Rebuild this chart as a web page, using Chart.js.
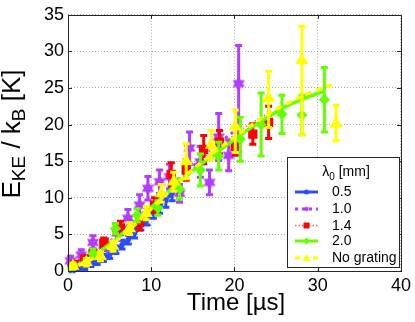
<!DOCTYPE html>
<html><head><meta charset="utf-8">
<script src="https://cdn.jsdelivr.net/npm/chart.js@4.4.0/dist/chart.umd.min.js"></script>
<style>html,body{margin:0;padding:0;background:#fff;overflow:hidden}canvas{display:block}</style>
</head><body>
<canvas id="c" width="415" height="322"></canvas>
<script>
// ---------- data ----------
const xTicks = [0, 10, 20, 30, 40];
const yTicks = [0, 5, 10, 15, 20, 25, 30, 35];
const legendLabels = ['0.5', '1.0', '1.4', '2.0', 'No grating'];

// lambda0 = 0.5 mm
const blueX = [0.5, 1.25, 2.0, 2.75, 3.5, 4.25, 5.0, 5.75, 6.5, 7.25, 8.0, 8.75, 9.5, 10.25, 11.0, 11.75, 12.5];
const blueY = [0.2, 0.4, 0.6, 1.0, 1.3, 1.8, 2.2, 2.9, 3.6, 4.3, 5.2, 6.3, 7.1, 8.0, 8.8, 9.6, 10.6];
const blueErr = [0.3, 0.3, 0.4, 0.4, 0.4, 0.5, 0.5, 0.5, 0.6, 0.6, 0.7, 0.7, 0.8, 0.8, 0.9, 0.9, 1.0];
const blueFitX = [0, 2, 4, 6, 8, 10, 12, 12.8];
const blueFitY = [0.1, 0.6, 1.6, 3.1, 5.1, 7.6, 10.0, 10.9];

// lambda0 = 1.0 mm
const purpleX = [0.3, 1.6, 3.0, 4.5, 5.9, 7.2, 8.6, 9.6, 11.0, 12.2, 13.4, 14.6, 15.9, 17.0, 18.1, 19.3, 20.5];
const purpleY = [1.4, 2.2, 3.9, 3.6, 5.2, 7.2, 9.0, 11.3, 12.2, 12.9, 10.6, 16.8, 14.9, 12.1, 18.3, 15.8, 25.6];
const purpleErrMinus = [0.6, 0.7, 0.9, 0.8, 1.0, 1.2, 1.4, 1.6, 1.6, 1.7, 1.2, 2.2, 2.1, 1.7, 3.2, 2.1, 9.3];
const purpleErrPlus = [0.6, 0.7, 0.9, 0.8, 1.0, 1.2, 1.4, 1.6, 1.6, 1.7, 1.2, 2.2, 2.1, 1.7, 3.2, 2.1, 5.2];
const purpleFitX = [0, 2, 4, 6, 8, 10, 12, 14, 16, 18, 20.5];
const purpleFitY = [0.8, 1.8, 3.2, 4.9, 6.9, 9.0, 11.2, 13.3, 15.3, 17.3, 19.6];

// lambda0 = 1.4 mm
const redX = [0.8, 2.0, 3.0, 4.3, 6.3, 8.6, 10.4, 12.4, 14.2, 16.3, 18.2, 20.1, 22.2, 24.1];
const redY = [0.9, 1.6, 2.4, 3.8, 5.9, 6.6, 9.0, 13.2, 13.8, 16.6, 17.6, 17.0, 18.7, 20.3];
const redErr = [0.4, 0.5, 0.6, 0.7, 0.9, 1.0, 1.0, 1.6, 1.4, 1.9, 1.6, 1.2, 1.4, 2.2];
const redFitX = [0, 2, 4, 6, 8, 10, 12, 14, 16, 18, 20, 22, 24.2];
const redFitY = [0.5, 1.5, 3.0, 4.8, 6.7, 8.8, 10.9, 13.0, 14.9, 16.8, 18.6, 20.2, 21.6];

// lambda0 = 2.0 mm
const greenX = [0.5, 3.0, 5.7, 8.3, 10.8, 13.4, 15.9, 18.1, 20.7, 23.2, 25.7, 28.1, 30.8];
const greenY = [0.5, 2.4, 5.8, 7.6, 8.6, 11.2, 13.8, 15.7, 18.0, 20.0, 21.4, 21.3, 23.4];
const greenErr = [0.4, 0.6, 0.7, 0.9, 1.0, 1.4, 2.2, 1.9, 3.0, 4.3, 2.6, 2.7, 4.4];
const greenFitX = [0, 2, 4, 6, 8, 10, 12, 14, 16, 18, 20, 22, 24, 26, 28, 30.7];
const greenFitY = [0.3, 1.3, 2.8, 4.6, 6.6, 8.7, 10.8, 12.8, 14.6, 16.3, 18.0, 19.6, 21.0, 22.4, 23.4, 24.5];

// no grating
const yellowX = [0.6, 2.2, 3.9, 5.4, 7.4, 9.4, 11.2, 12.7, 14.2, 17.2, 20.1, 24.1, 28.1, 32.2];
const yellowY = [0.7, 1.2, 2.0, 3.4, 5.8, 7.9, 10.6, 12.2, 15.0, 17.2, 19.7, 23.6, 28.8, 20.1];
const yellowErrMinus = [0.4, 0.5, 0.6, 0.7, 0.8, 0.9, 1.2, 1.3, 2.4, 2.0, 3.5, 4.0, 10.2, 2.3];
const yellowErrPlus = [0.4, 0.5, 0.6, 0.7, 0.8, 0.9, 1.2, 1.3, 2.4, 2.0, 2.3, 3.7, 4.6, 2.5];
const yellowFitX = [0, 2, 4, 6, 8, 10, 12, 14, 16, 18, 20, 22, 24, 26, 28, 30, 31.9];
const yellowFitY = [0.3, 1.1, 2.5, 4.3, 6.3, 8.5, 10.7, 12.9, 14.8, 16.6, 18.3, 19.9, 21.4, 22.7, 23.8, 24.8, 25.5];

// ---------- styles ----------
const FONT = "'Liberation Sans', Arial, Helvetica, sans-serif";
const C = { blue: '#2a4dff', purple: '#b23cff', red: '#ff0000', green: '#66ff00', yellow: '#ffff00' };

function pts(xs, ys) { return xs.map((x, i) => ({ x: x, y: ys[i] })); }

function hexagram(color, r) {
  const s = Math.ceil(2 * r + 2);
  const c = document.createElement('canvas');
  c.width = s; c.height = s;
  const g = c.getContext('2d');
  g.fillStyle = color;
  const cx = s / 2, cy = s / 2;
  [0, Math.PI].forEach(off => {
    g.beginPath();
    for (let k = 0; k < 3; k++) {
      const a = off - Math.PI / 2 + k * 2 * Math.PI / 3;
      g.lineTo(cx + r * Math.cos(a), cy + r * Math.sin(a));
    }
    g.closePath(); g.fill();
  });
  return c;
}
const starImg = hexagram(C.purple, 7);

function dataSet(label, xs, ys, eMinus, ePlus, color, style, radius, order) {
  return {
    label: label, data: pts(xs, ys), showLine: false,
    backgroundColor: color, borderColor: color, borderWidth: 1.5,
    pointStyle: style, pointRadius: radius, pointHoverRadius: radius,
    errMinus: eMinus, errPlus: ePlus, barColor: color, barWidth: 3,
    order: order, clip: false
  };
}
function fitSet(xs, ys, color, width, dash, order) {
  return {
    data: pts(xs, ys), showLine: true, pointRadius: 0, borderColor: color,
    borderWidth: width, borderDash: dash, tension: 0.4, cubicInterpolationMode: 'monotone',
    fill: false, order: order
  };
}

const datasets = [
  dataSet('0.5', blueX, blueY, blueErr, blueErr, C.blue, 'circle', 2, 9),
  fitSet(blueFitX, blueFitY, C.blue, 3, [], 8),
  dataSet('1.0', purpleX, purpleY, purpleErrMinus, purpleErrPlus, C.purple, starImg, 7, 7),
  fitSet(purpleFitX, purpleFitY, C.purple, 3, [3, 4], 6),
  dataSet('1.4', redX, redY, redErr, redErr, C.red, 'rect', 5.5, 5),
  fitSet(redFitX, redFitY, '#ff5a5a', 1.5, [1.5, 2], 4),
  dataSet('2.0', greenX, greenY, greenErr, greenErr, C.green, 'rectRot', 4.5, 3),
  fitSet(greenFitX, greenFitY, C.green, 3.5, [], 2),
  dataSet('No grating', yellowX, yellowY, yellowErrMinus, yellowErrPlus, C.yellow, 'triangle', 6, 1),
  fitSet(yellowFitX, yellowFitY, C.yellow, 3.5, [6, 5], 0)
];

// ---------- plugins ----------
const errorBars = {
  id: 'errorBars',
  beforeDatasetDraw(chart, args) {
    const ds = chart.data.datasets[args.index];
    if (!ds.errMinus) return;
    const ctx = chart.ctx, xs = chart.scales.x, ys = chart.scales.y;
    const cap = 3.5;
    ctx.save();
    ctx.strokeStyle = ds.barColor; ctx.lineWidth = ds.barWidth; ctx.setLineDash([]);
    ds.data.forEach((p, i) => {
      const px = xs.getPixelForValue(p.x);
      const y1 = ys.getPixelForValue(p.y - ds.errMinus[i]);
      const y2 = ys.getPixelForValue(p.y + ds.errPlus[i]);
      ctx.beginPath();
      ctx.moveTo(px, y1); ctx.lineTo(px, y2);
      ctx.moveTo(px - cap, y1); ctx.lineTo(px + cap, y1);
      ctx.moveTo(px - cap, y2); ctx.lineTo(px + cap, y2);
      ctx.stroke();
    });
    ctx.restore();
  }
};

function richText(ctx, parts, cx, baseY, size, subSize, subDrop) {
  let total = 0;
  parts.forEach(p => { ctx.font = (p.sub ? subSize : size) + 'px ' + FONT; total += ctx.measureText(p.t).width; });
  let x = cx - total / 2;
  parts.forEach(p => {
    ctx.font = (p.sub ? subSize : size) + 'px ' + FONT;
    ctx.fillText(p.t, x, baseY + (p.sub ? subDrop : 0));
    x += ctx.measureText(p.t).width;
  });
}

const frame = {
  id: 'frame',
  afterDatasetsDraw(chart) {
    const ctx = chart.ctx, a = chart.chartArea, xs = chart.scales.x, ys = chart.scales.y;
    ctx.save();
    ctx.strokeStyle = '#262626'; ctx.lineWidth = 1; ctx.setLineDash([]);
    ctx.strokeRect(Math.round(a.left) + 0.5, Math.round(a.top) + 0.5, Math.round(a.right - a.left), Math.round(a.bottom - a.top));
    ctx.beginPath();
    xTicks.forEach(v => {
      const px = Math.round(xs.getPixelForValue(v)) + 0.5;
      ctx.moveTo(px, a.bottom); ctx.lineTo(px, a.bottom - 4);
      ctx.moveTo(px, a.top); ctx.lineTo(px, a.top + 4);
    });
    yTicks.forEach(v => {
      const py = Math.round(ys.getPixelForValue(v)) + 0.5;
      ctx.moveTo(a.left, py); ctx.lineTo(a.left + 4, py);
      ctx.moveTo(a.right, py); ctx.lineTo(a.right - 4, py);
    });
    ctx.stroke();
    ctx.restore();
  },
  afterDraw(chart) {
    const ctx = chart.ctx;
    ctx.save();
    ctx.fillStyle = '#000'; ctx.textBaseline = 'alphabetic'; ctx.textAlign = 'left';
    // x title
    richText(ctx, [{ t: 'Time [\u00b5s]' }], 236, 310, 24, 17, 0);
    // y title
    ctx.save();
    ctx.translate(20, 134); ctx.rotate(-Math.PI / 2);
    richText(ctx, [{ t: 'E' }, { t: 'KE', sub: true }, { t: ' / k' }, { t: 'B', sub: true }, { t: ' [K]' }], 0, 0, 26, 19, 5);
    ctx.restore();

    // legend
    const L = { x: 287, y: 157, w: 112, h: 110 };
    ctx.fillStyle = '#fff'; ctx.fillRect(L.x, L.y, L.w, L.h);
    ctx.strokeStyle = '#262626'; ctx.lineWidth = 1;
    ctx.strokeRect(L.x + 0.5, L.y + 0.5, L.w, L.h);
    ctx.fillStyle = '#000';
    richText(ctx, [{ t: '\u03bb' }, { t: '0', sub: true }, { t: ' [mm]' }], 346, 176, 14, 10, 4);
    const rowsY = [192, 209, 225.5, 241, 258];
    const styles = [
      { c: C.blue, w: 3, d: [], m: 'dot' },
      { c: C.purple, w: 3, d: [3, 4], m: 'star' },
      { c: '#ff5a5a', w: 1.5, d: [1.5, 2], m: 'square' },
      { c: C.green, w: 3, d: [], m: 'diamond' },
      { c: C.yellow, w: 3, d: [5, 4], m: 'tri' }
    ];
    ctx.font = '14px ' + FONT; ctx.textBaseline = 'middle';
    styles.forEach((s, i) => {
      const y = rowsY[i], x0 = 295, x1 = 318, xm = 306.5;
      ctx.strokeStyle = s.c; ctx.lineWidth = s.w; ctx.setLineDash(s.d);
      ctx.beginPath(); ctx.moveTo(x0, y); ctx.lineTo(x1, y); ctx.stroke();
      ctx.setLineDash([]);
      ctx.fillStyle = s.m === 'square' ? C.red : s.c;
      ctx.beginPath();
      if (s.m === 'dot') { ctx.arc(xm, y, 2.5, 0, Math.PI * 2); ctx.fill(); }
      else if (s.m === 'star') { ctx.drawImage(hexagram(C.purple, 3), xm - 4, y - 4); }
      else if (s.m === 'square') { ctx.fillRect(xm - 3, y - 3, 6, 6); }
      else if (s.m === 'diamond') { ctx.moveTo(xm, y - 3.5); ctx.lineTo(xm + 3.5, y); ctx.lineTo(xm, y + 3.5); ctx.lineTo(xm - 3.5, y); ctx.closePath(); ctx.fill(); }
      else { ctx.moveTo(xm, y - 4); ctx.lineTo(xm + 4, y + 3); ctx.lineTo(xm - 4, y + 3); ctx.closePath(); ctx.fill(); }
      ctx.fillStyle = '#000';
      ctx.fillText(legendLabels[i], 332, y + 0.5);
    });
    ctx.restore();
  }
};

new Chart(document.getElementById('c'), {
  type: 'scatter',
  data: { datasets: datasets },
  options: {
    responsive: false, animation: false, devicePixelRatio: 1,
    layout: { padding: { top: 13, right: 13, left: 0, bottom: 0 } },
    plugins: { legend: { display: false }, tooltip: { enabled: false } },
    scales: {
      x: {
        type: 'linear', min: 0, max: 40,
        afterFit(s) { s.height = 51; },
        afterBuildTicks(s) { s.ticks = xTicks.map(v => ({ value: v })); },
        ticks: { font: { family: FONT, size: 18 }, color: '#000', padding: 4, maxRotation: 0 },
        grid: { color: 'rgba(0,0,0,0.32)', lineWidth: 1, drawTicks: false },
        border: { display: false, dash: [1, 2] }
      },
      y: {
        type: 'linear', min: 0, max: 35,
        afterFit(s) { s.width = 68; },
        afterBuildTicks(s) { s.ticks = yTicks.map(v => ({ value: v })); },
        ticks: { font: { family: FONT, size: 18 }, color: '#000', padding: 4 },
        grid: { color: 'rgba(0,0,0,0.32)', lineWidth: 1, drawTicks: false },
        border: { display: false, dash: [1, 2] }
      }
    }
  },
  plugins: [errorBars, frame]
});
</script>
</body></html>
